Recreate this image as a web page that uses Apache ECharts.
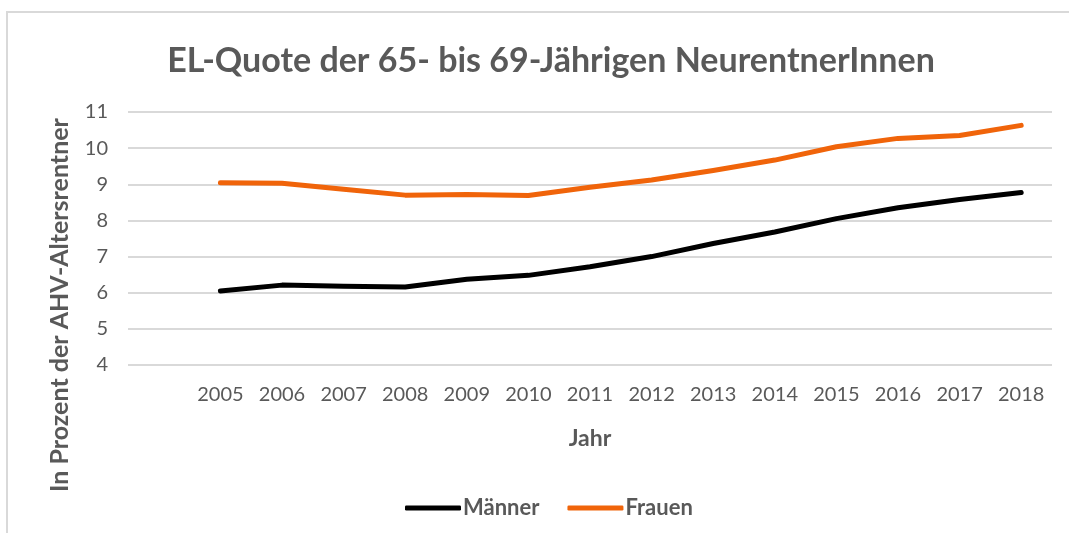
<!DOCTYPE html>
<html>
<head>
<meta charset="utf-8">
<script src="https://cdn.jsdelivr.net/npm/echarts@6/dist/echarts.min.js"></script>
<style>
  html, body { margin: 0; padding: 0; background: #fff; }
  #chart { width: 1069px; height: 533px; }
</style>
</head>
<body>
<div id="chart"></div>
<script>
// Kategorien: erste Spalte bleibt leer wie im Original
var jahre = ['', '2005', '2006', '2007', '2008', '2009', '2010', '2011', '2012', '2013', '2014', '2015', '2016', '2017', '2018'];
var maenner = [null, 6.05, 6.21, 6.18, 6.16, 6.37, 6.48, 6.72, 7.0, 7.36, 7.68, 8.05, 8.35, 8.58, 8.77];
var frauen = [null, 9.04, 9.03, 8.86, 8.70, 8.72, 8.69, 8.92, 9.12, 9.38, 9.67, 10.04, 10.27, 10.35, 10.63];
var yTicks = [4, 11, 1]; // min, max, interval

var grau = '#595959';
var schrift = 'Lato, "Open Sans", sans-serif';

var chart = echarts.init(document.getElementById('chart'));
var option = {
    backgroundColor: '#fff',
    animation: false,
    title: {
        text: 'EL-Quote der 65- bis 69-Jährigen NeurentnerInnen',
        left: 546, top: 39, textAlign: 'center',
        textStyle: { color: grau, fontSize: 34, fontWeight: 'bold', fontFamily: schrift }
    },
    graphic: [
        { // Rahmen
            type: 'rect', shape: { x: 7, y: 12, width: 1080, height: 540 },
            style: { fill: 'none', stroke: '#d9d9d9', lineWidth: 2 }, silent: true
        },
        { // y-Achsentitel
            type: 'text', x: 60, y: 305, rotation: Math.PI / 2,
            style: {
                text: 'In Prozent der AHV-Altersrentner', fill: grau,
                font: 'bold 25px ' + schrift, align: 'center', verticalAlign: 'middle'
            }
        }
    ],
    legend: {
        top: 492, left: 400, itemWidth: 56, itemHeight: 5, itemGap: 28,
        icon: 'roundRect',
        textStyle: {
            color: grau, fontSize: 22, fontWeight: 'bold', fontFamily: schrift, padding: [0, 0, 0, -3]
        },
        data: ['Männer', 'Frauen']
    },
    grid: { left: 128, right: 17, top: 112, bottom: 168 },
    xAxis: {
        type: 'category', data: jahre, boundaryGap: true,
        axisLine: { show: false }, axisTick: { show: false },
        axisLabel: { color: grau, fontSize: 20, fontFamily: schrift, margin: 20 },
        name: 'Jahr', nameLocation: 'middle', nameGap: 62,
        nameTextStyle: { color: grau, fontSize: 23, fontWeight: 'bold', fontFamily: schrift }
    },
    yAxis: {
        type: 'value', min: yTicks[0], max: yTicks[1], interval: yTicks[2],
        axisLine: { show: false }, axisTick: { show: false },
        axisLabel: { color: grau, fontSize: 20, fontFamily: schrift, margin: 20 },
        splitLine: { lineStyle: { color: '#d9d9d9', width: 2 } }
    },
    series: [
        {
            name: 'Männer', type: 'line', data: maenner, showSymbol: false,
            itemStyle: { color: '#000000' },
            lineStyle: { color: '#000000', width: 5, cap: 'round', join: 'round' }
        },
        {
            name: 'Frauen', type: 'line', data: frauen, showSymbol: false,
            itemStyle: { color: '#f0640a' },
            lineStyle: { color: '#f0640a', width: 5, cap: 'round', join: 'round' }
        }
    ]
};
chart.setOption(option);
</script>
</body>
</html>
